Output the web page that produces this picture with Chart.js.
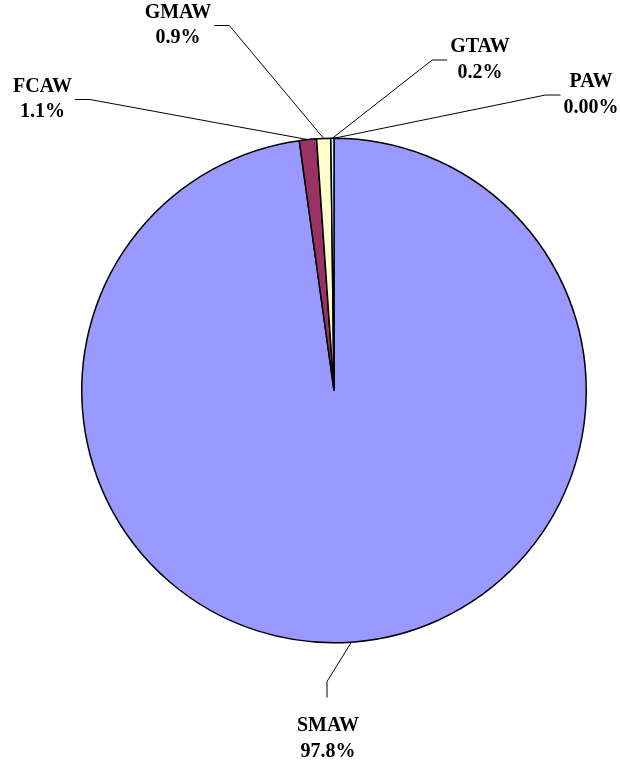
<!DOCTYPE html>
<html>
<head>
<meta charset="utf-8">
<script src="https://cdn.jsdelivr.net/npm/chart.js@4.4.1/dist/chart.umd.min.js"></script>
<style>
  html, body { margin: 0; padding: 0; background: #ffffff; }
  #wrap { position: relative; width: 620px; height: 763px; }
</style>
</head>
<body>
<div id="wrap"><canvas id="pie" width="620" height="763"></canvas></div>
<script>
// Welding process share
const processes = ['SMAW', 'FCAW', 'GMAW', 'GTAW', 'PAW'];
const shares = [97.8, 1.1, 0.9, 0.2, 0];
const shareDecimals = [1, 1, 1, 1, 2];
const sliceColors = ['#9999FF', '#993366', '#FFFFCC', '#CCFFFF', '#660066'];

// Where each label block sits, relative to the pie centre, and which side the leader enters from
const labelPlacement = [
  { dx: -6,    dy: 348.5,  side: 'top' },
  { dx: -291.5, dy: -291,  side: 'right' },
  { dx: -156,  dy: -365,   side: 'right' },
  { dx: 146,   dy: -330.5, side: 'left' },
  { dx: 257,   dy: -295.5, side: 'left' }
];

const LABEL_FONT = 'bold 20px "Liberation Serif", "Times New Roman", serif';
const LINE_H = 25.5;

const leaderLabels = {
  id: 'leaderLabels',
  afterDatasetsDraw(chart) {
    const ctx = chart.ctx;
    const meta = chart.getDatasetMeta(0);
    ctx.save();
    ctx.font = LABEL_FONT;
    ctx.fillStyle = '#000000';
    ctx.strokeStyle = '#000000';
    ctx.lineWidth = 1;
    ctx.textAlign = 'center';
    ctx.textBaseline = 'middle';
    meta.data.forEach((arc, i) => {
      const p = arc.getProps(['x', 'y', 'startAngle', 'endAngle', 'outerRadius'], true);
      const mid = (p.startAngle + p.endAngle) / 2;
      const ax = p.x + Math.cos(mid) * p.outerRadius;
      const ay = p.y + Math.sin(mid) * p.outerRadius;
      const place = labelPlacement[i];
      const bx = p.x + place.dx;
      const by = p.y + place.dy;
      const lines = [processes[i], shares[i].toFixed(shareDecimals[i]) + '%'];
      const w = Math.max(...lines.map(t => ctx.measureText(t).width));
      let s1, s2;
      if (place.side === 'right') {
        s1 = [bx + w / 2 + 18, by];
        s2 = [bx + w / 2 + 3, by];
      } else if (place.side === 'left') {
        s1 = [bx - w / 2 - 18, by];
        s2 = [bx - w / 2 - 3, by];
      } else {
        const top = by - LINE_H - 5;
        s1 = [bx - 1, top - 27];
        s2 = [bx - 1, top - 11];
      }
      ctx.beginPath();
      ctx.moveTo(ax, ay);
      ctx.lineTo(s1[0], s1[1]);
      ctx.lineTo(s2[0], s2[1]);
      ctx.stroke();
      ctx.fillText(lines[0], bx, by - LINE_H / 2);
      ctx.fillText(lines[1], bx, by + LINE_H / 2);
    });
    ctx.restore();
  }
};

new Chart(document.getElementById('pie'), {
  type: 'pie',
  data: {
    labels: processes,
    datasets: [{
      data: shares,
      backgroundColor: sliceColors,
      borderColor: '#000000',
      borderWidth: 1.5
    }]
  },
  options: {
    responsive: false,
    animation: false,
    layout: { padding: { left: 81, right: 33, top: 137, bottom: 119 } },
    plugins: {
      legend: { display: false },
      tooltip: { enabled: false }
    }
  },
  plugins: [leaderLabels]
});
</script>
</body>
</html>
